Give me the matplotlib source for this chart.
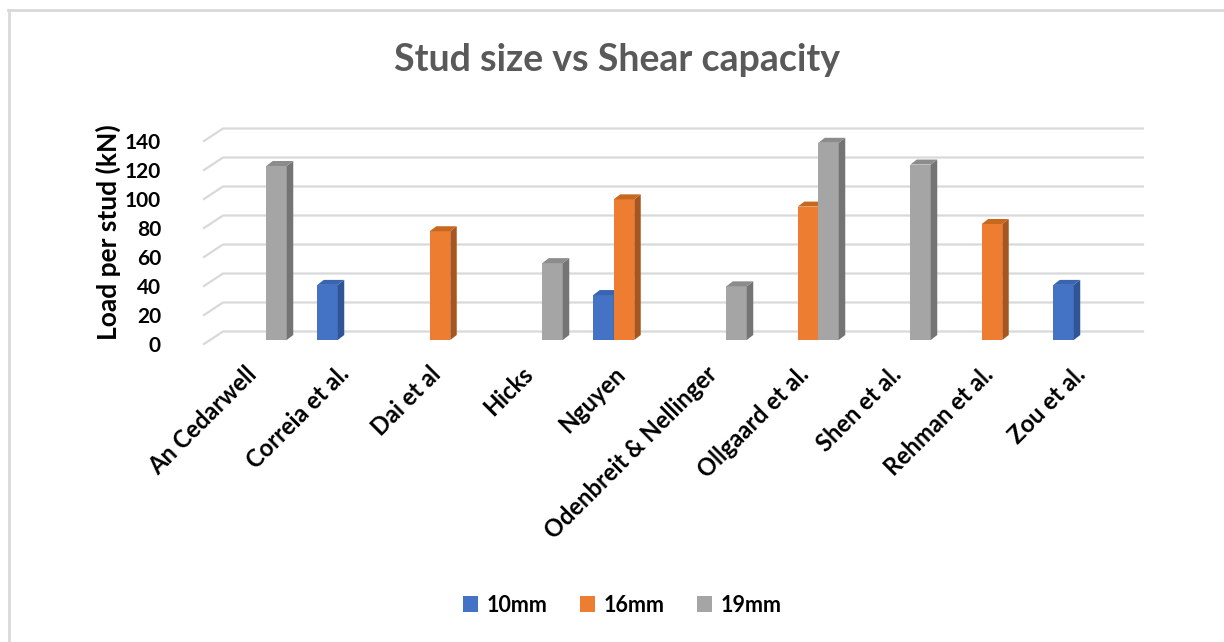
import matplotlib
matplotlib.use('Agg')
import matplotlib.pyplot as plt
from matplotlib.patches import Polygon, Patch
from matplotlib.lines import Line2D
from matplotlib.transforms import ScaledTranslation

studies = ['An Cedarwell', 'Correia et al.', 'Dai et al', 'Hicks', 'Nguyen',
           'Odenbreit & Nellinger', 'Ollgaard et al.', 'Shen et al.',
           'Rehman et al.', 'Zou et al.']
sizes = ['10mm', '16mm', '19mm']
load_10mm = [None, 38, None, None, 31, None, None, None, None, 38]
load_16mm = [None, None, 75, None, 97, None, 92, None, 80, None]
load_19mm = [120, None, None, 53, None, 37, 136, 121, None, None]
y_ticks = [0, 20, 40, 60, 80, 100, 120, 140]

front_colors = ['#4472C4', '#ED7D31', '#A5A5A5']
side_colors = ['#2F5597', '#A9561E', '#747474']
top_colors = ['#3A64B0', '#C8681F', '#8C8C8C']

FONT = 'Lato'
plt.rcParams['font.family'] = [FONT, 'DejaVu Sans']

W, H = 1224, 642
fig = plt.figure(figsize=(W / 100, H / 100), dpi=100)

# plot area: floor front edge runs from x=204px to 1124px, back wall to 1143px
px_per_cat = 92.0
px_per_unit = 1.45
base_px = 340.0
ymin, ymax = -5, 150
x_left = 204
x_right = 1143
ax = fig.add_axes([x_left / W,
                   1 - (base_px - ymin * px_per_unit) / H,
                   (x_right - x_left) / W,
                   (ymax - ymin) * px_per_unit / H])
back_dx = 19 / px_per_cat
ax.set_xlim(-0.5, 9.5 + back_dx)
ax.set_ylim(ymin, ymax)
for s in ax.spines.values():
    s.set_visible(False)

# gridlines on the back wall with a short diagonal on the floor side
front_dy = -4 / px_per_unit
back_dy = 8.5 / px_per_unit
for v in y_ticks:
    ax.add_line(Line2D([-0.5, -0.5 + back_dx, 9.5 + back_dx],
                       [v + front_dy, v + back_dy, v + back_dy],
                       color='#D9D9D9', lw=1.6, zorder=1, clip_on=False))

# 3D-looking columns
bar_w = 20.5 / px_per_cat
shift = 6 / px_per_cat
depth_x = 6.5 / px_per_cat
depth_y = 5 / px_per_unit
series = [load_10mm, load_16mm, load_19mm]
for k, vals in enumerate(series):
    for i, v in enumerate(vals):
        if v is None:
            continue
        x0 = i + shift + (k - 1) * bar_w - bar_w / 2
        x1 = x0 + bar_w
        z = 3 + i * 3 + k
        ax.bar(x0, v, width=bar_w, align='edge', color=front_colors[k],
               zorder=z, linewidth=0)
        ax.add_patch(Polygon([(x1, 0), (x1 + depth_x, depth_y),
                              (x1 + depth_x, v + depth_y), (x1, v)],
                             closed=True, color=side_colors[k], lw=0,
                             zorder=z))
        ax.add_patch(Polygon([(x0, v), (x1, v), (x1 + depth_x, v + depth_y),
                              (x0 + depth_x, v + depth_y)],
                             closed=True, color=top_colors[k], lw=0,
                             zorder=z))

ax.set_xticks([])
ax.set_yticks(y_ticks)
ax.set_yticklabels([str(t) for t in y_ticks], fontsize=15, fontweight='bold')
ax.tick_params(axis='y', length=0, pad=31)
for lab in ax.get_yticklabels():
    lab.set_transform(lab.get_transform() +
                      ScaledTranslation(0, -0.04, fig.dpi_scale_trans))

for i, name in enumerate(studies):
    ax.text(i + shift - 0.03, -21, name, rotation=45, rotation_mode='anchor',
            ha='right', va='center', fontsize=17, fontweight='bold',
            color='black')

fig.text(108 / W, 1 - 232 / H, 'Load per stud (kN)', rotation=90,
         ha='center', va='center', fontsize=19, fontweight='bold')
fig.text(617 / W, 1 - 60 / H, 'Stud size vs Shear capacity', ha='center',
         va='center', fontsize=27, fontweight='bold', color='#595959')

handles = [Patch(facecolor=c, edgecolor='none') for c in front_colors]
fig.legend(handles, sizes, loc='center', bbox_to_anchor=(622 / W, 1 - 605 / H),
           ncol=3, frameon=False, handlelength=0.7, handleheight=0.7,
           handletextpad=0.4, columnspacing=1.5,
           prop={'family': FONT, 'weight': 'bold', 'size': 15.5})

# chart frame (top and left edges)
fig.add_artist(Line2D([9 / W, 9 / W], [0, 1 - 10 / H], color='#D9D9D9',
                      lw=2, transform=fig.transFigure))
fig.add_artist(Line2D([8 / W, 1], [1 - 10 / H, 1 - 10 / H], color='#D9D9D9',
                      lw=2, transform=fig.transFigure))

fig.savefig('out.png', dpi=100, facecolor='white')
